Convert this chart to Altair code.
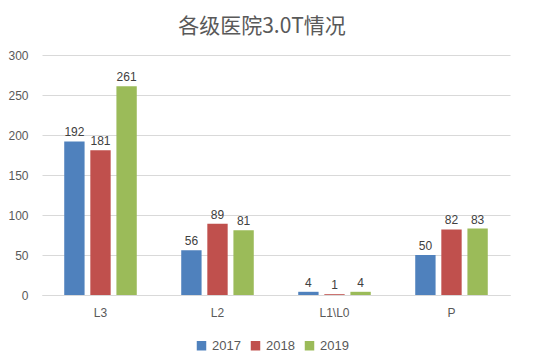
import altair as alt
import pandas as pd

categories = ["L3", "L2", "L1\\L0", "P"]
years = ["2017", "2018", "2019"]
v2017 = [192, 56, 4, 50]
v2018 = [181, 89, 1, 82]
v2019 = [261, 81, 4, 83]
colors = ["#4F81BD", "#C0504D", "#9BBB59"]

rows = []
for yr, vals in zip(years, [v2017, v2018, v2019]):
    for c, v in zip(categories, vals):
        rows.append({"cat": c, "year": yr, "value": v})
df = pd.DataFrame(rows)

x = alt.X("cat:N", sort=categories, title=None,
          scale=alt.Scale(paddingInner=0.38, paddingOuter=0.19),
          axis=alt.Axis(labelAngle=0, labelFontSize=12, labelColor="#595959",
                        labelPadding=12, ticks=False, domainColor="#D9D9D9",
                        labelFont="Liberation Sans"))
xo = alt.XOffset("year:N", sort=years, scale=alt.Scale(paddingInner=0.22))
y = alt.Y("value:Q", title=None,
          scale=alt.Scale(domain=[0, 300]),
          axis=alt.Axis(values=[0, 50, 100, 150, 200, 250, 300], labelFontSize=12,
                        labelColor="#595959", labelPadding=14, ticks=False,
                        domain=False, gridColor="#D9D9D9", labelFont="Liberation Sans"))

bars = alt.Chart(df).mark_bar().encode(
    x=x, xOffset=xo, y=y,
    color=alt.Color("year:N", sort=years,
                    scale=alt.Scale(domain=years, range=colors),
                    legend=alt.Legend(orient="none", legendX=153, legendY=284,
                                      direction="horizontal", title=None,
                                      symbolType="square", symbolSize=90,
                                      labelFontSize=13, labelColor="#595959",
                                      labelFont="Liberation Sans",
                                      symbolStrokeWidth=0, columnPadding=8))
)
labels = alt.Chart(df).mark_text(dy=-9, fontSize=12, color="#404040",
                                 font="Liberation Sans").encode(
    x=x, xOffset=xo, y=y, text="value:Q"
)

chart = (bars + labels).properties(
    width=468, height=240,
    autosize=alt.AutoSizeParams(type="none"),
    title=alt.TitleParams("各级医院3.0T情况", fontSize=21, color="#595959",
                          font="Noto Sans CJK SC", fontWeight="normal", offset=12,
                          dx=-14),
    padding={"left": 34, "top": 47, "right": 35, "bottom": 59},
).configure_view(stroke=None)

chart.save("out.html", embed_options={"renderer": "svg", "actions": False})
